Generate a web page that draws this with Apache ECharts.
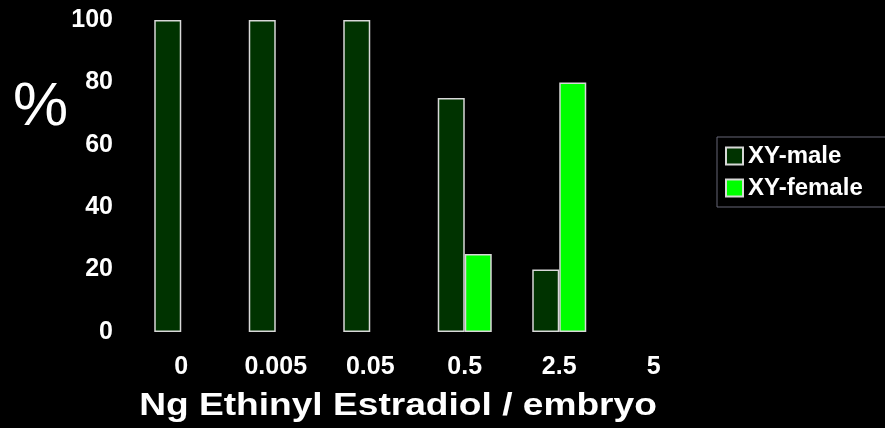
<!DOCTYPE html>
<html>
<head>
<meta charset="utf-8">
<script src="https://cdn.jsdelivr.net/npm/echarts@6/dist/echarts.min.js"></script>
<style>
html,body{margin:0;padding:0;background:#000;}
#chart{width:885px;height:428px;}
</style>
</head>
<body>
<div id="chart"></div>
<script>
const categories = ['0', '0.005', '0.05', '0.5', '2.5', '5'];
const xyMale = [100, 100, 100, 75, 20, null];
const xyFemale = [null, null, null, 25, 80, null];
const yTicks = [0, 20, 40, 60, 80, 100];
const xTitle = 'Ng Ethinyl Estradiol / embryo';
const yTitle = '%';

const chart = echarts.init(document.getElementById('chart'));
const font = 'Liberation Sans, Arial, sans-serif';
chart.setOption({
  backgroundColor: '#000',
  animation: false,
  grid: { left: 134, right: 184, top: 20, bottom: 96 },
  legend: {
    orient: 'vertical',
    left: 717, top: 137,
    padding: [7, 40, 7, 8],
    borderColor: '#666677', borderWidth: 1,
    itemWidth: 17, itemHeight: 17, itemGap: 8,
    icon: 'rect',
    textStyle: { color: '#fff', fontSize: 24, fontWeight: 'bold', fontFamily: font },
    data: ['XY-male', 'XY-female']
  },
  xAxis: {
    type: 'category',
    data: categories,
    axisLine: { show: false }, axisTick: { show: false },
    axisLabel: { color: '#fff', fontSize: 25, fontWeight: 'bold', fontFamily: font, margin: 23 }
  },
  yAxis: {
    type: 'value', min: yTicks[0], max: yTicks[yTicks.length - 1], interval: 20,
    axisLine: { show: false }, axisTick: { show: false }, splitLine: { show: false },
    axisLabel: { color: '#fff', fontSize: 25, fontWeight: 'bold', fontFamily: font, margin: 21 }
  },
  graphic: [
    { type: 'text', left: 13, top: 77, style: { text: yTitle, fill: '#fff', fontSize: 62, fontFamily: font } },
    { type: 'text', x: 398, y: 406, scaleX: 1.16, style: { text: xTitle, fill: '#fff', fontSize: 32, fontWeight: 'bold', fontFamily: font, textAlign: 'center', textVerticalAlign: 'middle' } }
  ],
  series: [
    { name: 'XY-male', type: 'bar', data: xyMale, barWidth: 27, barGap: '0%',
      itemStyle: { color: '#003300', borderColor: '#d8d8d8', borderWidth: 1.5 } },
    { name: 'XY-female', type: 'bar', data: xyFemale, barWidth: 27, barGap: '0%',
      itemStyle: { color: '#00ff00', borderColor: '#d8d8d8', borderWidth: 1.5 } }
  ]
});
</script>
</body>
</html>
